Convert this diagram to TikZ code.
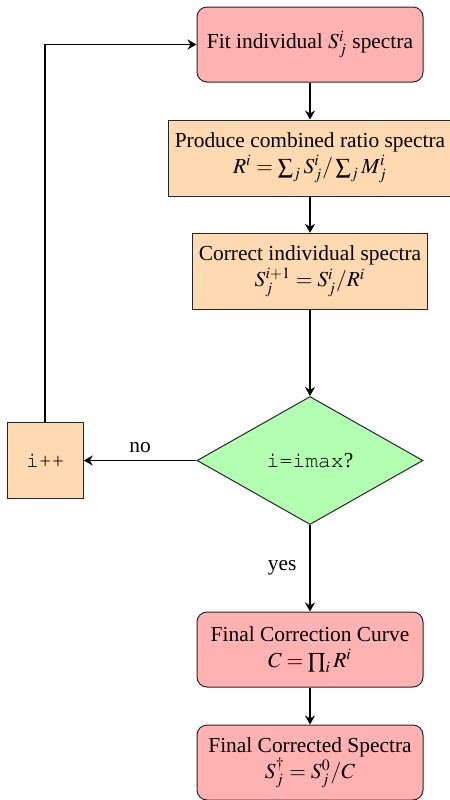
\documentclass[tikz,border=0pt]{standalone}
\usepackage[T1]{fontenc}
\usepackage{mathptmx}
\usepackage{fontspec}
\setmainfont{Liberation Serif}
\newcommand{\cour}[1]{{\fontencoding{T1}\fontfamily{pcr}\selectfont #1}}
\usetikzlibrary{shapes.geometric,arrows.meta}
\begin{document}
\begin{tikzpicture}[x=0.5pt,y=-0.5pt,
  font=\fontsize{10.7}{13}\selectfont,
  redbox/.style={draw=black!85, line width=0.5pt, fill=red!30, rounded corners=5pt,
    minimum width=113pt, minimum height=37.5pt, align=center, inner sep=2pt},
  orbox/.style={draw=black!85, line width=0.5pt, fill=orange!30,
    minimum height=38pt, align=center, inner sep=2pt},
  decision/.style={draw=black!85, line width=0.5pt, fill=green!30, diamond, aspect=1.78,
    minimum width=113pt, minimum height=64pt, inner sep=0pt},
  flow/.style={line width=0.95pt, -{Stealth[length=4.5pt,width=5pt,inset=1.5pt]}}]
\useasboundingbox (0,0) rectangle (450,800);
\node[redbox] (fit) at (310,44.5) {Fit individual $S^i_j$ spectra};
\node[orbox, minimum width=141.5pt] (prod) at (310,158) {Produce combined ratio spectra\\$R^i=\sum_j S^i_j/\sum_j M^i_j$};
\node[orbox, minimum width=117.5pt] (corr) at (310,271.3) {Correct individual spectra\\$S^{i+1}_j=S^i_j/R^i$};
\node[decision] (dec) at (310,460.5) {\cour{i=imax}?};
\node[orbox, minimum width=38pt, minimum height=38pt] (inc) at (45.3,460.5) {\cour{i++}};
\node[redbox] (curve) at (310,649.5) {Final Correction Curve\\$C=\prod_i R^i$};
\node[redbox] (spec) at (310,762.5) {Final Corrected Spectra\\$S^\dagger_j=S^0_j/C$};
\draw[flow] (fit) -- (prod);
\draw[flow] (prod) -- (corr);
\draw[flow] (corr) -- (dec);
\draw[flow] (dec) -- node[above] (no) {no} (inc);
\draw[flow] (inc.north) |- (fit.west);
\draw[flow] (dec) -- node[left, xshift=-3pt] (yes) {yes} (curve);
\draw[flow] (curve) -- (spec);
\end{tikzpicture}
\end{document}
